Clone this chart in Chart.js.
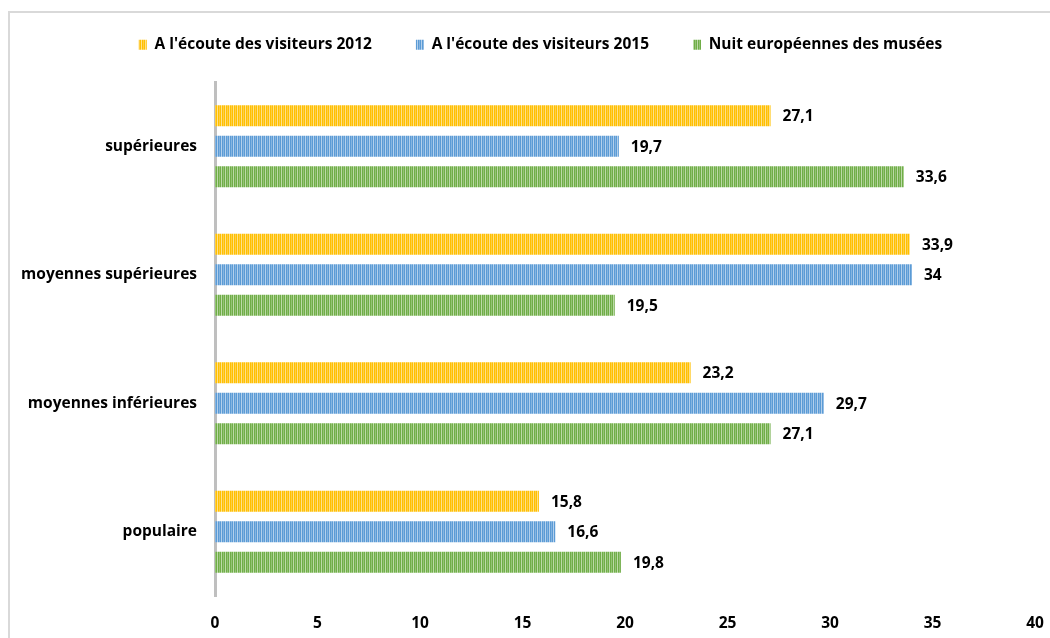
<!DOCTYPE html>
<html>
<head>
<meta charset="utf-8">
<script src="https://cdn.jsdelivr.net/npm/chart.js@4/dist/chart.umd.min.js"></script>
<style>
    html, body { margin: 0; padding: 0; background: #fff; }
    #wrap { width: 1050px; height: 638px; position: relative; }
</style>
</head>
<body>
<div id="wrap"><canvas id="chart" width="1050" height="638"></canvas></div>
<script>
const categories = ["supérieures", "moyennes supérieures", "moyennes inférieures", "populaire"];
const seriesNames = ["A l'écoute des visiteurs 2012", "A l'écoute des visiteurs 2015", "Nuit européennes des musées"];
const values2012 = [27.1, 33.9, 23.2, 15.8];
const values2015 = [19.7, 34, 29.7, 16.6];
const valuesNuit = [33.6, 19.5, 27.1, 19.8];
const xTicks = [0, 5, 10, 15, 20, 25, 30, 35, 40];

const colors = [
    ["#FFC000", "#FFE18A", "#FFCE45"],
    ["#5B9BD5", "#B4D0EC", "#86B5E1"],
    ["#70AD47", "#BCDAA8", "#94C476"]
];

function stripes(c) {
    var cv = document.createElement('canvas');
    cv.width = 4;
    cv.height = 1;
    var g = cv.getContext('2d');
    [c[0], c[1], c[0], c[2]].forEach((col, i) => {
        g.fillStyle = col;
        g.fillRect(i, 0, 1, 1);
    });
    return g.createPattern(cv, 'repeat');
}

const FONT = "'Open Sans', sans-serif";
const SIZE = 15.5;

// value labels to the right of bars
const valueLabels = {
    id: 'valueLabels',
    afterDatasetsDraw(chart) {
        var ctx = chart.ctx;
        ctx.save();
        ctx.font = "bold " + SIZE + "px " + FONT;
        ctx.fillStyle = "#000";
        ctx.textBaseline = "middle";
        chart.data.datasets.forEach((ds, i) => {
            chart.getDatasetMeta(i).data.forEach((bar, j) => {
                ctx.fillText(String(ds.data[j]).replace('.', ','), bar.x + 12, bar.y + 1);
            });
        });
        ctx.restore();
    }
};

// light grey frame, cut by the picture edge
const frame = {
    id: 'frame',
    beforeDraw(chart) {
        var ctx = chart.ctx;
        ctx.save();
        ctx.strokeStyle = "#D9D9D9";
        ctx.lineWidth = 2;
        ctx.strokeRect(9, 12, 1200, 800);
        ctx.restore();
    }
};

// legend keeps wide gaps between items but a fixed height, a bit right of centre
const legendPlace = {
    id: 'legendPlace',
    afterInit(chart) {
        var lg = chart.legend;
        var fit = lg.fit;
        lg.fit = function() {
            fit.call(this);
            this.height = 89;
        };
    },
    afterLayout(chart) {
        chart.legend.left += 23;
        chart.legend.right += 23;
    }
};

var datasets = [values2012, values2015, valuesNuit].map((d, i) => ({
    label: seriesNames[i],
    data: d,
    backgroundColor: stripes(colors[i]),
    borderWidth: 0,
    categoryPercentage: 0.712,
    barPercentage: 0.69
}));

new Chart(document.getElementById('chart'), {
    type: 'bar',
    data: { labels: categories, datasets: datasets },
    options: {
        indexAxis: 'y',
        responsive: false,
        animation: false,
        layout: { padding: { top: -7, right: 15, bottom: 9, left: 0 } },
        plugins: {
            tooltip: { enabled: false },
            legend: {
                labels: {
                    boxWidth: 8,
                    boxHeight: 10,
                    padding: 44,
                    color: "#000",
                    font: { family: FONT, size: SIZE, weight: 'bold' }
                }
            }
        },
        scales: {
            x: {
                min: 0,
                max: 40,
                afterBuildTicks(scale) {
                    scale.ticks = xTicks.map(v => ({ value: v }));
                },
                afterFit(scale) {
                    scale.height = 33;
                    scale.paddingLeft = 0;
                    scale.paddingRight = 0;
                },
                grid: { display: false, drawTicks: false },
                border: { display: false },
                ticks: {
                    padding: 18,
                    color: "#000",
                    font: { family: FONT, size: SIZE, weight: 'bold' }
                }
            },
            y: {
                afterFit(scale) {
                    scale.width = 215;
                    scale.paddingTop = 0;
                    scale.paddingBottom = 0;
                },
                grid: { display: false, drawTicks: false },
                border: { display: true, color: "#BFBFBF", width: 3 },
                ticks: {
                    padding: 18,
                    color: "#000",
                    font: { family: FONT, size: SIZE, weight: 'bold' }
                }
            }
        }
    },
    plugins: [frame, legendPlace, valueLabels]
});
</script>
</body>
</html>
